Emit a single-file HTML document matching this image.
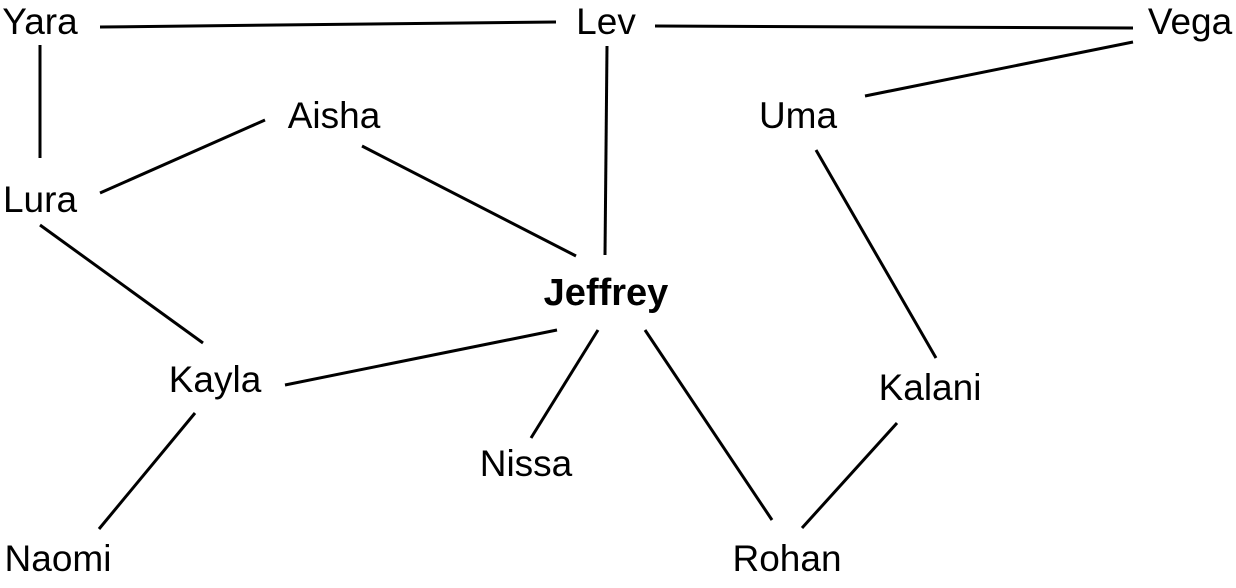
<!DOCTYPE html>
<html><head><meta charset="utf-8"><style>
html,body{margin:0;padding:0;background:#fff;}
svg{display:block;}
text{font-family:"Liberation Sans",sans-serif;font-size:37px;fill:#000;text-anchor:middle;}
</style></head><body>
<svg width="1236" height="588" viewBox="0 0 1236 588">
<g stroke="#000" stroke-width="3" fill="none">
<line x1="100" y1="27" x2="556" y2="22"/>
<line x1="655" y1="26" x2="1133" y2="28"/>
<line x1="1133" y1="42" x2="865" y2="96"/>
<line x1="40" y1="45" x2="40" y2="158"/>
<line x1="607" y1="46" x2="605" y2="255"/>
<line x1="265" y1="120" x2="100" y2="193"/>
<line x1="362" y1="146" x2="576" y2="256"/>
<line x1="40" y1="225" x2="203" y2="343"/>
<line x1="816" y1="150" x2="936" y2="358"/>
<line x1="557" y1="330" x2="285" y2="385"/>
<line x1="598" y1="330" x2="531" y2="438"/>
<line x1="645" y1="330" x2="772" y2="520"/>
<line x1="195" y1="413" x2="99" y2="529"/>
<line x1="897" y1="423" x2="802" y2="528"/>
</g>
<text x="40" y="34">Yara</text>
<text x="606" y="34">Lev</text>
<text x="1190" y="34">Vega</text>
<text x="334" y="128">Aisha</text>
<text x="798" y="128">Uma</text>
<text x="40" y="212">Lura</text>
<text x="606" y="305" style="font-weight:bold;font-size:38px">Jeffrey</text>
<text x="215" y="392">Kayla</text>
<text x="930" y="400">Kalani</text>
<text x="526" y="476">Nissa</text>
<text x="58" y="571">Naomi</text>
<text x="787" y="571">Rohan</text>
</svg>
</body></html>
